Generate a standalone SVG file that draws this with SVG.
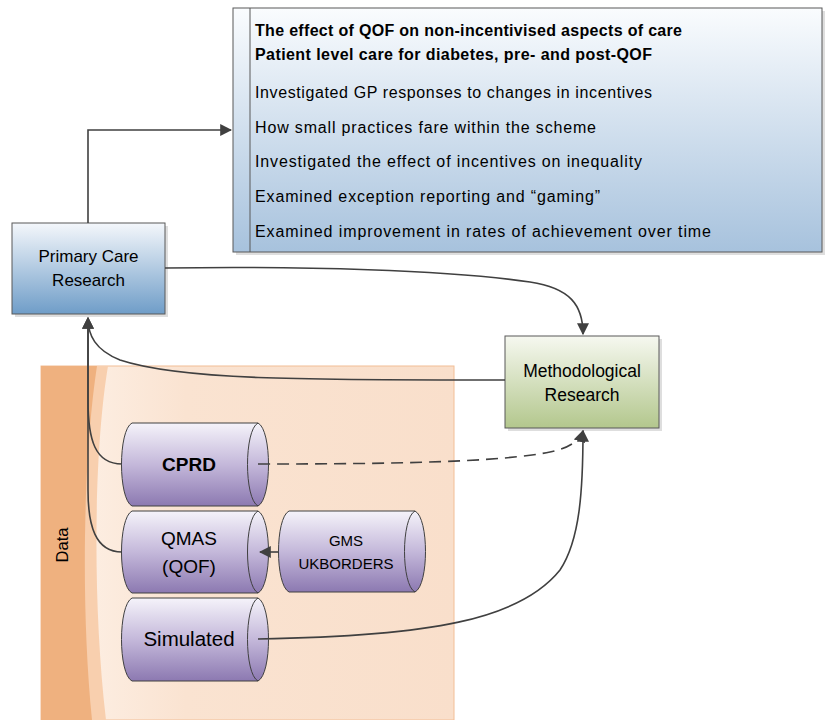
<svg xmlns="http://www.w3.org/2000/svg" width="826" height="720" viewBox="0 0 826 720">
<defs>
<linearGradient id="gTop" x1="0" y1="0" x2="0" y2="1"><stop offset="0" stop-color="#FAFCFE"/><stop offset="1" stop-color="#A7C2DD"/></linearGradient>
<linearGradient id="gPcr" x1="0" y1="0" x2="0" y2="1"><stop offset="0" stop-color="#F4F7FB"/><stop offset="1" stop-color="#6F9DC8"/></linearGradient>
<linearGradient id="gMeth" x1="0" y1="0" x2="0" y2="1"><stop offset="0" stop-color="#F6F8F0"/><stop offset="1" stop-color="#B3C78D"/></linearGradient>
<linearGradient id="gCyl" x1="0" y1="0" x2="0" y2="1"><stop offset="0" stop-color="#F5F3FA"/><stop offset="0.5" stop-color="#C4B8DA"/><stop offset="1" stop-color="#8C79B1"/></linearGradient>
<linearGradient id="gData" x1="0" y1="0" x2="1" y2="0"><stop offset="0" stop-color="#FEF3EA"/><stop offset="0.35" stop-color="#FAE3D1"/><stop offset="1" stop-color="#F9DFCB"/></linearGradient>
<marker id="arr" viewBox="0 0 10 10" refX="9" refY="5" markerWidth="12" markerHeight="12" markerUnits="userSpaceOnUse" orient="auto"><path d="M0,0 L10,5 L0,10 Z" fill="#404040"/></marker>
</defs>
<style>
.t{font-family:"Liberation Sans",Arial,sans-serif;fill:#000}
.c{stroke:#404040;stroke-width:1.6;fill:none}
.box{stroke:#595959;stroke-width:1}
.cyl{fill:url(#gCyl);stroke:#404040;stroke-width:1}
.sh{fill:#D0D0D0;opacity:0.7}
</style>
<rect width="826" height="720" fill="#FFFFFF"/>

<g id="data-panel">
<rect x="41" y="366" width="413" height="354" fill="url(#gData)" stroke="#F2BE96" stroke-width="1"/>
<path d="M41,366 L108,366 C94,450 92,600 106,720 L41,720 Z" fill="#F8CFAE"/>
<path d="M41,366 L97,366 C84,450 80,600 92,720 L41,720 Z" fill="#EFB17F"/>
<text class="t" x="0" y="0" font-size="16.5" text-anchor="middle" transform="translate(68,545) rotate(-90)">Data</text>
</g>

<g id="top-box">
<rect x="236" y="11" width="589" height="244" class="sh"/>
<rect x="233" y="8" width="589" height="244" fill="url(#gTop)" class="box"/>
<line x1="250" y1="8" x2="250" y2="252" stroke="#595959" stroke-width="1"/>
<text class="t" font-size="16" font-weight="bold" x="255" y="36" textLength="427">The effect of QOF on non-incentivised aspects of care</text>
<text class="t" font-size="16" font-weight="bold" x="255" y="60" textLength="397">Patient level care for diabetes, pre- and post-QOF</text>
<text class="t" font-size="16" x="255" y="98" textLength="397">Investigated GP responses to changes in incentives</text>
<text class="t" font-size="16" x="255" y="133" textLength="341">How small practices fare within the scheme</text>
<text class="t" font-size="16" x="255" y="167" textLength="387">Investigated the effect of incentives on inequality</text>
<text class="t" font-size="16" x="255" y="202" textLength="345">Examined exception reporting and “gaming”</text>
<text class="t" font-size="16" x="255" y="237" textLength="456">Examined improvement in rates of achievement over time</text>
</g>

<g id="primary-care-research">
<rect x="15" y="226" width="153" height="91" class="sh"/>
<rect x="12" y="223" width="153" height="91" fill="url(#gPcr)" class="box"/>
<text class="t" font-size="17" text-anchor="middle" x="88.5" y="262">Primary Care</text>
<text class="t" font-size="17" text-anchor="middle" x="88.5" y="286">Research</text>
</g>

<g id="methodological-research">
<rect x="508" y="339" width="154" height="92" class="sh"/>
<rect x="505" y="336" width="154" height="92" fill="url(#gMeth)" class="box"/>
<text class="t" font-size="17.5" text-anchor="middle" x="582" y="377">Methodological</text>
<text class="t" font-size="17.5" text-anchor="middle" x="582" y="401">Research</text>
</g>

<g id="cprd">
<path d="M132,423 L258,423 C272,430 272,499 258,506 L132,506 C118,499 118,430 132,423 Z" class="cyl"/>
<path d="M258,423 C244,430 244,499 258,506" fill="none" stroke="#404040" stroke-width="1"/>
<text class="t" font-size="19" font-weight="bold" text-anchor="middle" x="189" y="471">CPRD</text>
</g>

<g id="qmas">
<path d="M132,511 L258,511 C272,518 272,586 258,593 L132,593 C118,586 118,518 132,511 Z" class="cyl"/>
<path d="M258,511 C244,518 244,586 258,593" fill="none" stroke="#404040" stroke-width="1"/>
<text class="t" font-size="19" text-anchor="middle" x="189" y="545">QMAS</text>
<text class="t" font-size="19" text-anchor="middle" x="189" y="573">(QOF)</text>
</g>

<g id="simulated">
<path d="M132,598 L258,598 C272,605 272,674 258,681 L132,681 C118,674 118,605 132,598 Z" class="cyl"/>
<path d="M258,598 C244,605 244,674 258,681" fill="none" stroke="#404040" stroke-width="1"/>
<text class="t" font-size="20.5" text-anchor="middle" x="189" y="646">Simulated</text>
</g>

<g id="gms-ukborders">
<path d="M289,511 L415,511 C429,518 429,585 415,592 L289,592 C275,585 275,518 289,511 Z" class="cyl"/>
<path d="M415,511 C401,518 401,585 415,592" fill="none" stroke="#404040" stroke-width="1"/>
<text class="t" font-size="15" text-anchor="middle" x="346" y="546">GMS</text>
<text class="t" font-size="15" text-anchor="middle" x="346" y="569">UKBORDERS</text>
</g>

<g id="connectors">
<path class="c" d="M88,223 L88,130 L231,130" marker-end="url(#arr)"/>
<path class="c" d="M165,268 C300,266 450,270 530,282 C570,288 583,305 583,334" marker-end="url(#arr)"/>
<path class="c" d="M505,380 C300,380 180,380 120,360 C95,350 88,335 88,318" marker-end="url(#arr)"/>
<path class="c" d="M122,464 C95,464 88,440 88,400 L88,318"/>
<path class="c" d="M122,552 C95,552 88,525 88,490 L88,318" marker-end="url(#arr)"/>
<path class="c" d="M279,552 L260,552" marker-end="url(#arr)"/>
<path class="c" d="M258,464 C400,464 500,462 550,452 C570,448 580,440 583,431" stroke-dasharray="12,7" marker-end="url(#arr)"/>
<path class="c" d="M258,639 C430,636 520,620 560,570 C580,540 583,490 583,431" marker-end="url(#arr)"/>
</g>
</svg>
